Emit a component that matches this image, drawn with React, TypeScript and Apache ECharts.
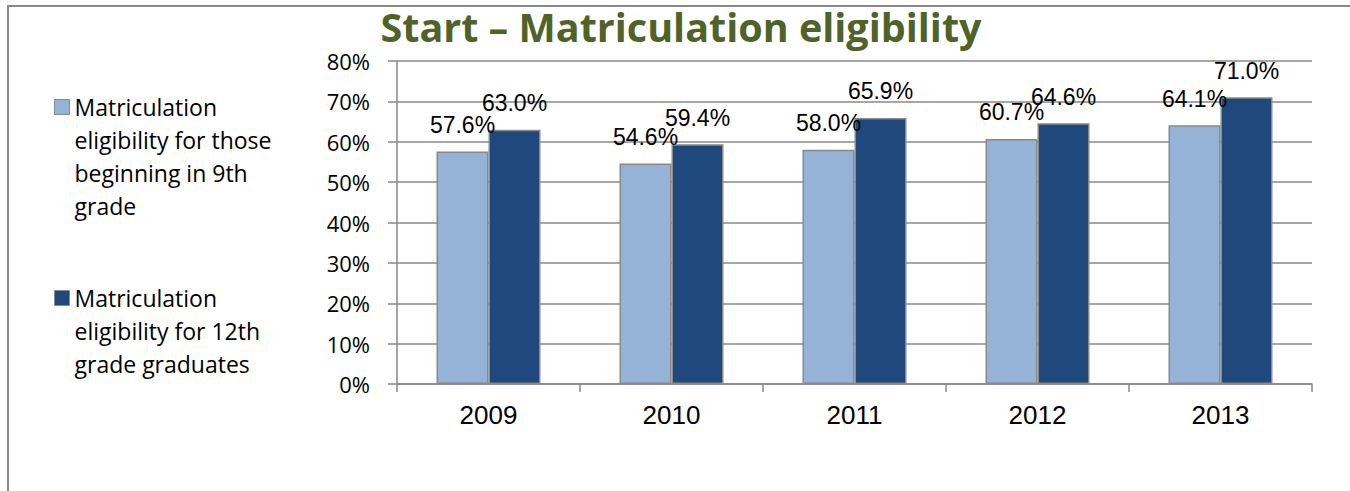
import React, { useEffect, useRef } from "react";
import * as echarts from "echarts";

const categories = ["2009", "2010", "2011", "2012", "2013"];
const ninthGrade = [57.6, 54.6, 58.0, 60.7, 64.1];
const twelfthGrade = [63.0, 59.4, 65.9, 64.6, 71.0];
const seriesNames = [
  "Matriculation eligibility for those beginning in 9th grade",
  "Matriculation eligibility for 12th grade graduates",
];
const legendLines1 = ["Matriculation", "eligibility for those", "beginning in 9th", "grade"];
const legendLines2 = ["Matriculation", "eligibility for 12th", "grade graduates"];
const titleText = "Start \u2013 Matriculation eligibility";

const LINE_H = 33;

export default function App() {
  const ref = useRef<HTMLDivElement>(null);
  useEffect(() => {
    document.body.style.margin = "0";
    if (!ref.current) return;
    const chart = echarts.init(ref.current, null, { renderer: "svg" });
    const grey = "#898989";
    const legendBase = (lines: string[], name: string, iconCenter: number) => {
      const n = lines.length;
      const total = (2 * n - 1) * LINE_H;
      const text = new Array(n - 1).fill(" ").concat(lines).join("\n");
      return {
        data: [name],
        orient: "vertical",
        left: 54,
        top: iconCenter - total / 2,
        padding: 0,
        selectedMode: false,
        icon: "rect",
        itemWidth: 15,
        itemHeight: 15,
        itemStyle: { borderColor: grey, borderWidth: 1 },
        formatter: () => text,
        textStyle: {
          fontFamily: "Open Sans",
          fontSize: 23,
          color: "#000",
          lineHeight: LINE_H,
        },
      };
    };
    const labelCfg = {
      show: true,
      position: "top",
      distance: 15,
      fontFamily: "Liberation Sans",
      fontSize: 23,
      color: "#000",
      formatter: (p: any) => Number(p.value).toFixed(1) + "%",
    };
    chart.setOption({
      animation: false,
      backgroundColor: "#fff",
      title: {
        text: titleText,
        left: 681,
        top: 7,
        padding: 0,
        textAlign: "center",
        textStyle: {
          fontFamily: "Open Sans",
          fontWeight: "bold",
          fontSize: 39.5,
          color: "#4f6228",
        },
      },
      legend: [
        legendBase(legendLines1, seriesNames[0], 107),
        legendBase(legendLines2, seriesNames[1], 298),
      ],
      grid: { left: 397, right: 38, top: 61, bottom: 107, containLabel: false },
      xAxis: {
        type: "category",
        data: categories,
        axisLine: { lineStyle: { color: grey, width: 1.5 } },
        axisTick: { show: true, length: 8, lineStyle: { color: grey, width: 1.5 } },
        axisLabel: {
          margin: 18,
          fontFamily: "Liberation Sans",
          fontSize: 26,
          color: "#000",
        },
      },
      yAxis: {
        type: "value",
        min: 0,
        max: 80,
        interval: 10,
        axisLine: { show: true, lineStyle: { color: grey, width: 1.5 } },
        axisTick: { show: true, length: 9, lineStyle: { color: grey, width: 1.5 } },
        splitLine: { show: true, lineStyle: { color: grey, width: 1.5 } },
        axisLabel: {
          margin: 27,
          fontFamily: "Open Sans",
          fontSize: 22,
          color: "#000",
          formatter: "{value}%",
        },
      },
      series: [
        {
          name: seriesNames[0],
          type: "bar",
          data: ninthGrade,
          barWidth: 52,
          barGap: "0%",
          itemStyle: { color: "#95b3d7", borderColor: grey, borderWidth: 1.5 },
          label: labelCfg,
        },
        {
          name: seriesNames[1],
          type: "bar",
          data: twelfthGrade,
          barWidth: 52,
          barGap: "0%",
          itemStyle: { color: "#1f497d", borderColor: grey, borderWidth: 1.5 },
          label: labelCfg,
        },
      ],
      graphic: [
        {
          type: "rect",
          shape: { x: 8, y: 6, width: 1400, height: 600 },
          style: { fill: "none", stroke: grey, lineWidth: 2 },
          silent: true,
          z: -1,
        },
      ],
    });
    return () => chart.dispose();
  }, []);
  return <div ref={ref} style={{ width: 1350, height: 491 }} />;
}
